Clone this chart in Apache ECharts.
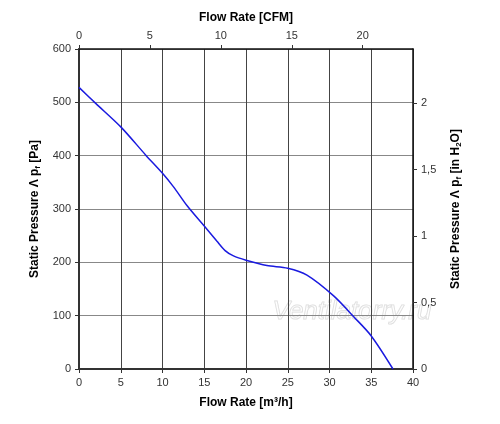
<!DOCTYPE html>
<html>
<head>
<meta charset="utf-8">
<script src="https://cdn.jsdelivr.net/npm/echarts@6/dist/echarts.min.js"></script>
<style>
  html, body { margin: 0; padding: 0; background: #fff; }
  #chart { width: 500px; height: 424px; }
</style>
</head>
<body>
<div id="chart"></div>
<script>
// 风量 (m³/h) 与静压 (Pa)
const flowM3h = [0, 2, 5, 8, 10, 11.3, 13, 15, 16.5, 17.5, 18.5, 20, 22.5, 25, 27.3, 30.5, 32.9, 35, 37.6];
const pressurePa = [528, 498, 454, 401, 367, 342, 305, 268, 240, 222, 212, 204, 194, 189, 176, 137, 98, 62, 0];

// 单位换算
const M3H_PER_CFM = 1.699;
const PA_PER_INH2O = 249.09;
const flowMax = 40;
const pressureMax = 600;

const font = 'Liberation Sans, Arial, sans-serif';

const chart = echarts.init(document.getElementById('chart'));

const labelStyle = { color: '#333', fontSize: 11, fontFamily: font };
const nameRich = {
    a: { fontSize: 12, fontWeight: 'bold', color: '#000', fontFamily: font },
    s: { fontSize: 8, fontWeight: 'bold', color: '#000', fontFamily: font, padding: [6, 0, 0, 0] }
};

const option = {
    animation: false,
    backgroundColor: '#fff',
    grid: { left: 79, right: 87, top: 49, bottom: 55, outerBoundsMode: 'none', containLabel: false },
    xAxis: [
        {
            type: 'value',
            position: 'bottom',
            min: 0,
            max: flowMax,
            interval: 5,
            name: '{a|Flow Rate [m³/h]}',
            nameLocation: 'middle',
            nameGap: 28,
            nameTextStyle: { rich: nameRich },
            axisLine: { show: true, onZero: false, lineStyle: { color: '#333', width: 2 } },
            axisTick: { show: true, length: 4, lineStyle: { color: '#333' } },
            axisLabel: labelStyle,
            splitLine: { show: true, lineStyle: { color: '#444', width: 1 } }
        },
        {
            type: 'value',
            position: 'top',
            min: 0,
            max: flowMax / M3H_PER_CFM,
            interval: 5,
            name: '{a|Flow Rate [CFM]}',
            nameLocation: 'middle',
            nameGap: 25,
            nameTextStyle: { rich: nameRich },
            axisLine: { show: true, onZero: false, lineStyle: { color: '#111', width: 1.5 } },
            axisTick: { show: true, length: 4, lineStyle: { color: '#333' } },
            axisLabel: Object.assign({}, labelStyle, { showMaxLabel: false }),
            splitLine: { show: false }
        }
    ],
    yAxis: [
        {
            type: 'value',
            position: 'left',
            min: 0,
            max: pressureMax,
            interval: 100,
            name: '{a|Static Pressure Λ p}{s|f}{a| [Pa]}',
            nameLocation: 'middle',
            nameRotate: 90,
            nameGap: 30,
            nameTextStyle: { rich: nameRich },
            axisLine: { show: true, onZero: false, lineStyle: { color: '#333', width: 2 } },
            axisTick: { show: true, length: 4, lineStyle: { color: '#333' } },
            axisLabel: labelStyle,
            splitLine: { show: true, lineStyle: { color: '#888', width: 1 } }
        },
        {
            type: 'value',
            position: 'right',
            min: 0,
            max: pressureMax / PA_PER_INH2O,
            interval: 0.5,
            name: '{a|Static Pressure Λ p}{s|f}{a| [in H}{s|2}{a|O]}',
            nameLocation: 'middle',
            nameRotate: 90,
            nameGap: 36,
            nameTextStyle: { rich: nameRich },
            axisLine: { show: true, onZero: false, lineStyle: { color: '#111', width: 1.5 } },
            axisTick: { show: true, length: 4, lineStyle: { color: '#333' } },
            axisLabel: Object.assign({}, labelStyle, {
                showMaxLabel: false,
                formatter: function (v) { return String(v).replace('.', ','); }
            }),
            splitLine: { show: false }
        }
    ],
    graphic: [
        {
            type: 'text',
            left: 272,
            top: 298,
            silent: true,
            style: {
                text: 'Ventilatorry.ru',
                font: 'italic 26px ' + font,
                fill: 'rgba(255,255,255,0.3)',
                stroke: '#dcdcdc',
                lineWidth: 1
            }
        }
    ],
    series: [
        {
            type: 'line',
            xAxisIndex: 0,
            yAxisIndex: 0,
            smooth: 0.3,
            showSymbol: false,
            lineStyle: { color: '#1a1adf', width: 1.5 },
            data: flowM3h.map((x, i) => [x, pressurePa[i]])
        }
    ]
};

chart.setOption(option);
</script>
</body>
</html>
